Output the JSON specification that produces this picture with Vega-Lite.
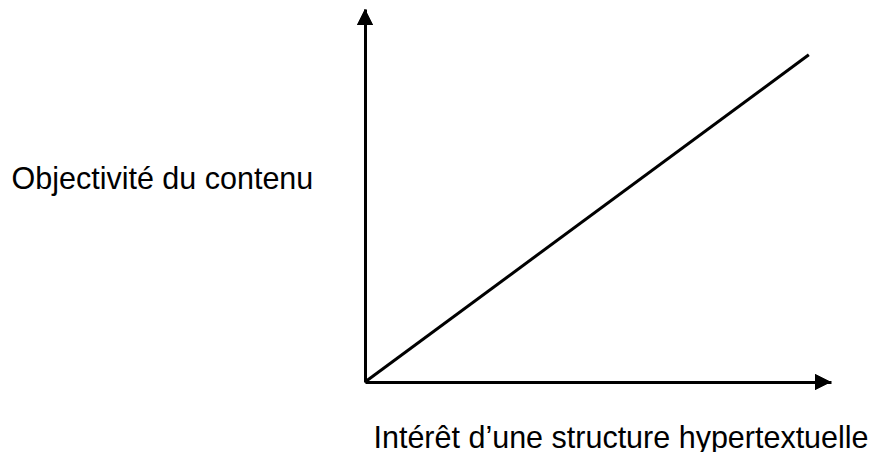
{
  "$schema": "https://vega.github.io/schema/vega-lite/v6.json",
  "width": 466,
  "height": 373,
  "autosize": {"type": "none"},
  "padding": {"left": 365, "top": 9, "right": 44, "bottom": 70},
  "background": "white",
  "config": {"view": {"stroke": null}},
  "data": {"values": [{"x": 0, "y": 0}, {"x": 1, "y": 1}]},
  "layer": [
    {
      "mark": {"type": "line", "color": "black", "strokeWidth": 3},
      "encoding": {
        "x": {
          "field": "x", "type": "quantitative",
          "scale": {"domain": [0, 1.05], "nice": false, "zero": false},
          "axis": {
            "grid": false, "ticks": false, "labels": false,
            "domain": true, "domainColor": "black", "domainWidth": 3,
            "title": "Intérêt d’une structure hypertextuelle",
            "titleFont": "Liberation Sans", "titleFontSize": 30.5, "titleFontWeight": "normal",
            "titleColor": "black", "titleAnchor": "start", "titleAlign": "left",
            "titleBaseline": "alphabetic", "titleX": 8, "titleY": 65
          }
        },
        "y": {
          "field": "y", "type": "quantitative",
          "scale": {"domain": [0, 1.14], "nice": false, "zero": false},
          "axis": {
            "grid": false, "ticks": false, "labels": false,
            "domain": true, "domainColor": "black", "domainWidth": 3,
            "title": "Objectivité du contenu",
            "titleFont": "Liberation Sans", "titleFontSize": 30.5, "titleFontWeight": "normal",
            "titleColor": "black", "titleAngle": 0, "titleAlign": "left",
            "titleBaseline": "alphabetic", "titleX": -354, "titleY": 179
          }
        }
      }
    },
    {
      "mark": {"type": "point", "shape": "M0,0L1,2L-1,2Z", "size": 256, "filled": true, "fill": "black", "stroke": null, "opacity": 1},
      "encoding": {
        "x": {"datum": 0, "type": "quantitative"},
        "y": {"datum": 1.14, "type": "quantitative"}
      }
    },
    {
      "mark": {"type": "point", "shape": "M0,0L-2,-1L-2,1Z", "size": 256, "filled": true, "fill": "black", "stroke": null, "opacity": 1},
      "encoding": {
        "x": {"datum": 1.05, "type": "quantitative"},
        "y": {"datum": 0, "type": "quantitative"}
      }
    }
  ]
}
